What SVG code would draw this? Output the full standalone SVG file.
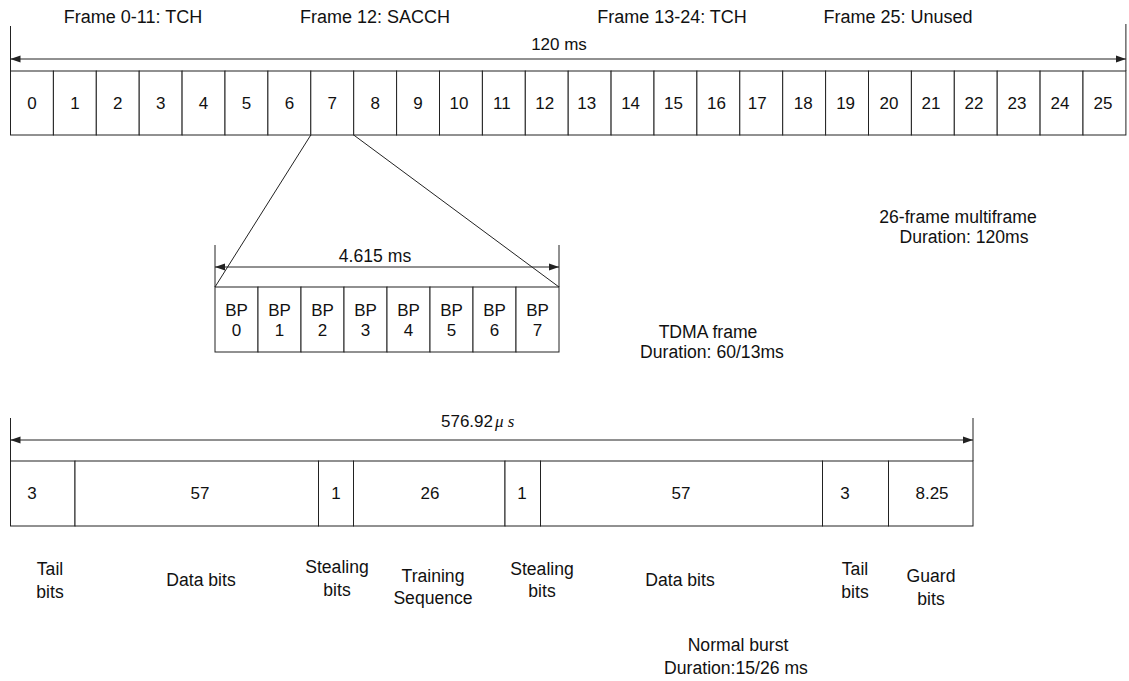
<svg xmlns="http://www.w3.org/2000/svg" width="1129" height="681" viewBox="0 0 1129 681">
<style>
  text { font-family: "Liberation Sans", Arial, sans-serif; font-size: 17px; fill: #111; }
  .c { text-anchor: middle; }
  .lbl { font-size: 17.6px; }
  .hdr { font-size: 18px; }
  .box { fill: #fff; stroke: #222; stroke-width: 1; }
  .ln { stroke: #222; stroke-width: 1; fill: none; }
  .dim { stroke: #222; stroke-width: 1; fill: none; marker-start: url(#arr); marker-end: url(#arr); }
  .mu { font-family: "Liberation Serif", "Times New Roman", serif; font-style: italic; }
</style>
<defs>
  <marker id="arr" viewBox="0 0 10 8" refX="10" refY="4" markerWidth="10" markerHeight="8" markerUnits="userSpaceOnUse" orient="auto-start-reverse">
    <path d="M0,0.5 L10,4 L0,7.5 Z" fill="#222"/>
  </marker>
</defs>
<rect width="1129" height="681" fill="#fff"/>

<!-- top labels -->
<g id="labels-top">
  <text class="c hdr" x="133" y="23">Frame 0-11: TCH</text>
  <text class="c hdr" x="375" y="23">Frame 12: SACCH</text>
  <text class="c hdr" x="672" y="23">Frame 13-24: TCH</text>
  <text class="c hdr" x="898" y="23">Frame 25: Unused</text>
  <text class="c" x="559" y="50">120 ms</text>
</g>

<!-- multiframe cells -->
<g id="multiframe">
  <g id="f0"><rect class="box" x="10.5" y="71" width="42.9" height="64"/><text class="c" x="31.9" y="109">0</text></g>
  <g id="f1"><rect class="box" x="53.4" y="71" width="42.9" height="64"/><text class="c" x="74.9" y="109">1</text></g>
  <g id="f2"><rect class="box" x="96.3" y="71" width="42.9" height="64"/><text class="c" x="117.8" y="109">2</text></g>
  <g id="f3"><rect class="box" x="139.2" y="71" width="42.9" height="64"/><text class="c" x="160.7" y="109">3</text></g>
  <g id="f4"><rect class="box" x="182.1" y="71" width="42.9" height="64"/><text class="c" x="203.6" y="109">4</text></g>
  <g id="f5"><rect class="box" x="225" y="71" width="42.9" height="64"/><text class="c" x="246.5" y="109">5</text></g>
  <g id="f6"><rect class="box" x="267.9" y="71" width="42.9" height="64"/><text class="c" x="289.4" y="109">6</text></g>
  <g id="f7"><rect class="box" x="310.8" y="71" width="42.9" height="64"/><text class="c" x="332.3" y="109">7</text></g>
  <g id="f8"><rect class="box" x="353.7" y="71" width="42.9" height="64"/><text class="c" x="375.2" y="109">8</text></g>
  <g id="f9"><rect class="box" x="396.6" y="71" width="42.9" height="64"/><text class="c" x="418.1" y="109">9</text></g>
  <g id="f10"><rect class="box" x="439.5" y="71" width="42.9" height="64"/><text class="c" x="459" y="109">10</text></g>
  <g id="f11"><rect class="box" x="482.4" y="71" width="42.9" height="64"/><text class="c" x="501.9" y="109">11</text></g>
  <g id="f12"><rect class="box" x="525.3" y="71" width="42.9" height="64"/><text class="c" x="544.8" y="109">12</text></g>
  <g id="f13"><rect class="box" x="568.2" y="71" width="42.9" height="64"/><text class="c" x="586.7" y="109">13</text></g>
  <g id="f14"><rect class="box" x="611.1" y="71" width="42.9" height="64"/><text class="c" x="630.6" y="109">14</text></g>
  <g id="f15"><rect class="box" x="654" y="71" width="42.9" height="64"/><text class="c" x="673.5" y="109">15</text></g>
  <g id="f16"><rect class="box" x="696.9" y="71" width="42.9" height="64"/><text class="c" x="716.4" y="109">16</text></g>
  <g id="f17"><rect class="box" x="739.8" y="71" width="42.9" height="64"/><text class="c" x="757.3" y="109">17</text></g>
  <g id="f18"><rect class="box" x="782.7" y="71" width="42.9" height="64"/><text class="c" x="803.2" y="109">18</text></g>
  <g id="f19"><rect class="box" x="825.6" y="71" width="42.9" height="64"/><text class="c" x="845.6" y="109">19</text></g>
  <g id="f20"><rect class="box" x="868.5" y="71" width="42.9" height="64"/><text class="c" x="889" y="109">20</text></g>
  <g id="f21"><rect class="box" x="911.4" y="71" width="42.9" height="64"/><text class="c" x="931" y="109">21</text></g>
  <g id="f22"><rect class="box" x="954.3" y="71" width="42.9" height="64"/><text class="c" x="974" y="109">22</text></g>
  <g id="f23"><rect class="box" x="997.2" y="71" width="42.9" height="64"/><text class="c" x="1017" y="109">23</text></g>
  <g id="f24"><rect class="box" x="1040.1" y="71" width="42.9" height="64"/><text class="c" x="1060" y="109">24</text></g>
  <g id="f25"><rect class="box" x="1083" y="71" width="42.9" height="64"/><text class="c" x="1103" y="109">25</text></g>
</g>

<!-- TDMA frame -->
<g id="tdma">
  <g id="bp0"><rect class="box" x="215" y="287" width="43" height="65"/><text class="c" x="236.5" y="316">BP</text><text class="c" x="236.5" y="336">0</text></g>
  <g id="bp1"><rect class="box" x="258" y="287" width="43" height="65"/><text class="c" x="279.5" y="316">BP</text><text class="c" x="279.5" y="336">1</text></g>
  <g id="bp2"><rect class="box" x="301" y="287" width="43" height="65"/><text class="c" x="322.5" y="316">BP</text><text class="c" x="322.5" y="336">2</text></g>
  <g id="bp3"><rect class="box" x="344" y="287" width="43" height="65"/><text class="c" x="365.5" y="316">BP</text><text class="c" x="365.5" y="336">3</text></g>
  <g id="bp4"><rect class="box" x="387" y="287" width="43" height="65"/><text class="c" x="408.5" y="316">BP</text><text class="c" x="408.5" y="336">4</text></g>
  <g id="bp5"><rect class="box" x="430" y="287" width="43" height="65"/><text class="c" x="451.5" y="316">BP</text><text class="c" x="451.5" y="336">5</text></g>
  <g id="bp6"><rect class="box" x="473" y="287" width="43" height="65"/><text class="c" x="494.5" y="316">BP</text><text class="c" x="494.5" y="336">6</text></g>
  <g id="bp7"><rect class="box" x="516" y="287" width="43" height="65"/><text class="c" x="537.5" y="316">BP</text><text class="c" x="537.5" y="336">7</text></g>
  <text class="c lbl" x="375" y="262">4.615 ms</text>
</g>

<!-- normal burst -->
<g id="burst">
  <g id="b-tail1"><rect class="box" x="10.5" y="461" width="64.5" height="65"/><text class="c" x="32" y="499">3</text></g>
  <g id="b-data1"><rect class="box" x="75" y="461" width="243.5" height="65"/><text class="c" x="200" y="499">57</text></g>
  <g id="b-steal1"><rect class="box" x="318.5" y="461" width="35" height="65"/><text class="c" x="336" y="499">1</text></g>
  <g id="b-train"><rect class="box" x="353.5" y="461" width="151.5" height="65"/><text class="c" x="430" y="499">26</text></g>
  <g id="b-steal2"><rect class="box" x="505" y="461" width="35.5" height="65"/><text class="c" x="522" y="499">1</text></g>
  <g id="b-data2"><rect class="box" x="540.5" y="461" width="282" height="65"/><text class="c" x="681" y="499">57</text></g>
  <g id="b-tail2"><rect class="box" x="822.5" y="461" width="66" height="65"/><text class="c" x="845" y="499">3</text></g>
  <g id="b-guard"><rect class="box" x="888.5" y="461" width="84.5" height="65"/><text class="c" x="932" y="499">8.25</text></g>
  <text x="441" y="427">576.92<tspan class="mu" dx="2">μ s</tspan></text>
</g>

<!-- field labels -->
<g id="labels-burst" class="lbl">
  <text class="c lbl" x="50" y="575">Tail</text><text class="c lbl" x="50" y="598">bits</text>
  <text class="c lbl" x="201" y="586">Data bits</text>
  <text class="c lbl" x="337" y="573">Stealing</text><text class="c lbl" x="337" y="596">bits</text>
  <text class="c lbl" x="433" y="582">Training</text><text class="c lbl" x="433" y="604">Sequence</text>
  <text class="c lbl" x="542" y="575">Stealing</text><text class="c lbl" x="542" y="597">bits</text>
  <text class="c lbl" x="680" y="586">Data bits</text>
  <text class="c lbl" x="855" y="575">Tail</text><text class="c lbl" x="855" y="598">bits</text>
  <text class="c lbl" x="931" y="582">Guard</text><text class="c lbl" x="931" y="605">bits</text>
</g>

<g id="captions">
  <text class="c lbl" x="958" y="223">26-frame multiframe</text>
  <text class="c lbl" x="964" y="243">Duration: 120ms</text>
  <text class="c lbl" x="708" y="338">TDMA frame</text>
  <text class="c lbl" x="712" y="358">Duration: 60/13ms</text>
  <text class="c lbl" x="738" y="651">Normal burst</text>
  <text class="c lbl" x="736" y="674">Duration:15/26 ms</text>
</g>

<!-- connectors -->
<g id="connectors">
  <line class="ln" x1="10.5" y1="26" x2="10.5" y2="71"/>
  <line class="ln" x1="1125.9" y1="24" x2="1125.9" y2="71"/>
  <line class="dim" x1="10.5" y1="59" x2="1125.9" y2="59"/>
  <line class="ln" x1="310.8" y1="135" x2="215" y2="287"/>
  <line class="ln" x1="353.7" y1="135" x2="559" y2="287"/>
  <line class="ln" x1="215" y1="245" x2="215" y2="287"/>
  <line class="ln" x1="559" y1="245" x2="559" y2="287"/>
  <line class="dim" x1="215" y1="267" x2="559" y2="267"/>
  <line class="ln" x1="10.5" y1="418" x2="10.5" y2="461"/>
  <line class="ln" x1="973" y1="418" x2="973" y2="461"/>
  <line class="dim" x1="10.5" y1="440" x2="973" y2="440"/>
</g>
</svg>
